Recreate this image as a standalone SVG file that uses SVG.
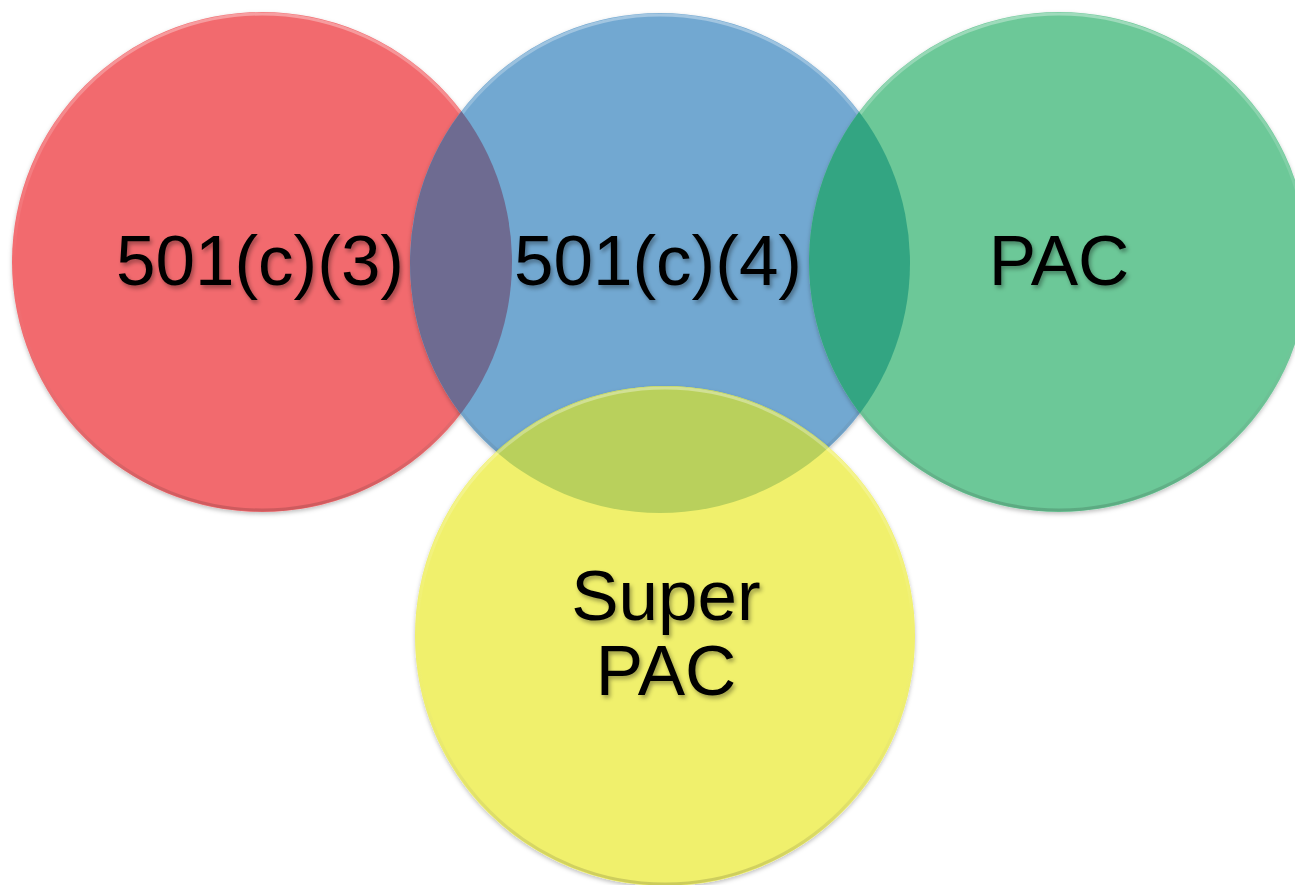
<svg xmlns="http://www.w3.org/2000/svg" width="1295" height="885" viewBox="0 0 1295 885">
<style>
.lbl{font-family:"Liberation Sans",Arial,sans-serif;font-size:71px;fill:#000;text-anchor:middle;filter:url(#ts)}
.rim{fill:none;stroke:url(#rimg);stroke-width:3}
</style>
<defs>
<filter id="ts" x="-10%" y="-20%" width="130%" height="150%">
<feDropShadow dx="2" dy="3" stdDeviation="2" flood-color="#000" flood-opacity="0.35"/>
</filter>
<filter id="cs" x="-5%" y="-5%" width="110%" height="110%">
<feDropShadow dx="0" dy="2" stdDeviation="2" flood-color="#000" flood-opacity="0.25"/>
</filter>
<linearGradient id="rimg" x1="0" y1="0" x2="0" y2="1">
<stop offset="0" stop-color="#fff" stop-opacity="0.35"/>
<stop offset="0.5" stop-color="#fff" stop-opacity="0"/>
<stop offset="1" stop-color="#000" stop-opacity="0.15"/>
</linearGradient>
<clipPath id="cRed"><circle cx="262" cy="262" r="250"/></clipPath>
<clipPath id="cBlue"><circle cx="660" cy="263" r="250"/></clipPath>
<clipPath id="cGreen"><circle cx="1059" cy="262" r="250"/></clipPath>
<clipPath id="cYellow"><circle cx="665" cy="636" r="250"/></clipPath>
</defs>
<g id="node-501c3">
<circle cx="262" cy="262" r="250" fill="#F26B6E" filter="url(#cs)"/>
<circle class="rim" cx="262" cy="262" r="248"/>
</g>
<g id="node-501c4">
<circle cx="660" cy="263" r="250" fill="#72A8D1" filter="url(#cs)"/>
<circle class="rim" cx="660" cy="263" r="248"/>
<g clip-path="url(#cRed)"><circle cx="660" cy="263" r="250" fill="#6E6B91"/></g>
</g>
<g id="node-pac">
<circle cx="1059" cy="262" r="250" fill="#6CC898" filter="url(#cs)"/>
<circle class="rim" cx="1059" cy="262" r="248"/>
<g clip-path="url(#cBlue)"><circle cx="1059" cy="262" r="250" fill="#33A582"/></g>
</g>
<g id="node-superpac">
<circle cx="665" cy="636" r="250" fill="#F0F06C" filter="url(#cs)"/>
<g clip-path="url(#cBlue)"><circle cx="665" cy="636" r="250" fill="#B9D05C"/></g>
<circle class="rim" cx="665" cy="636" r="248"/>
</g>
<g id="connectors"></g>
<g id="labels">
<text class="lbl" x="260" y="285">501(c)(3)</text>
<text class="lbl" x="658" y="285">501(c)(4)</text>
<text class="lbl" x="1059" y="285">PAC</text>
<text class="lbl" x="666" y="620">Super</text>
<text class="lbl" x="666" y="695">PAC</text>
</g>
</svg>
